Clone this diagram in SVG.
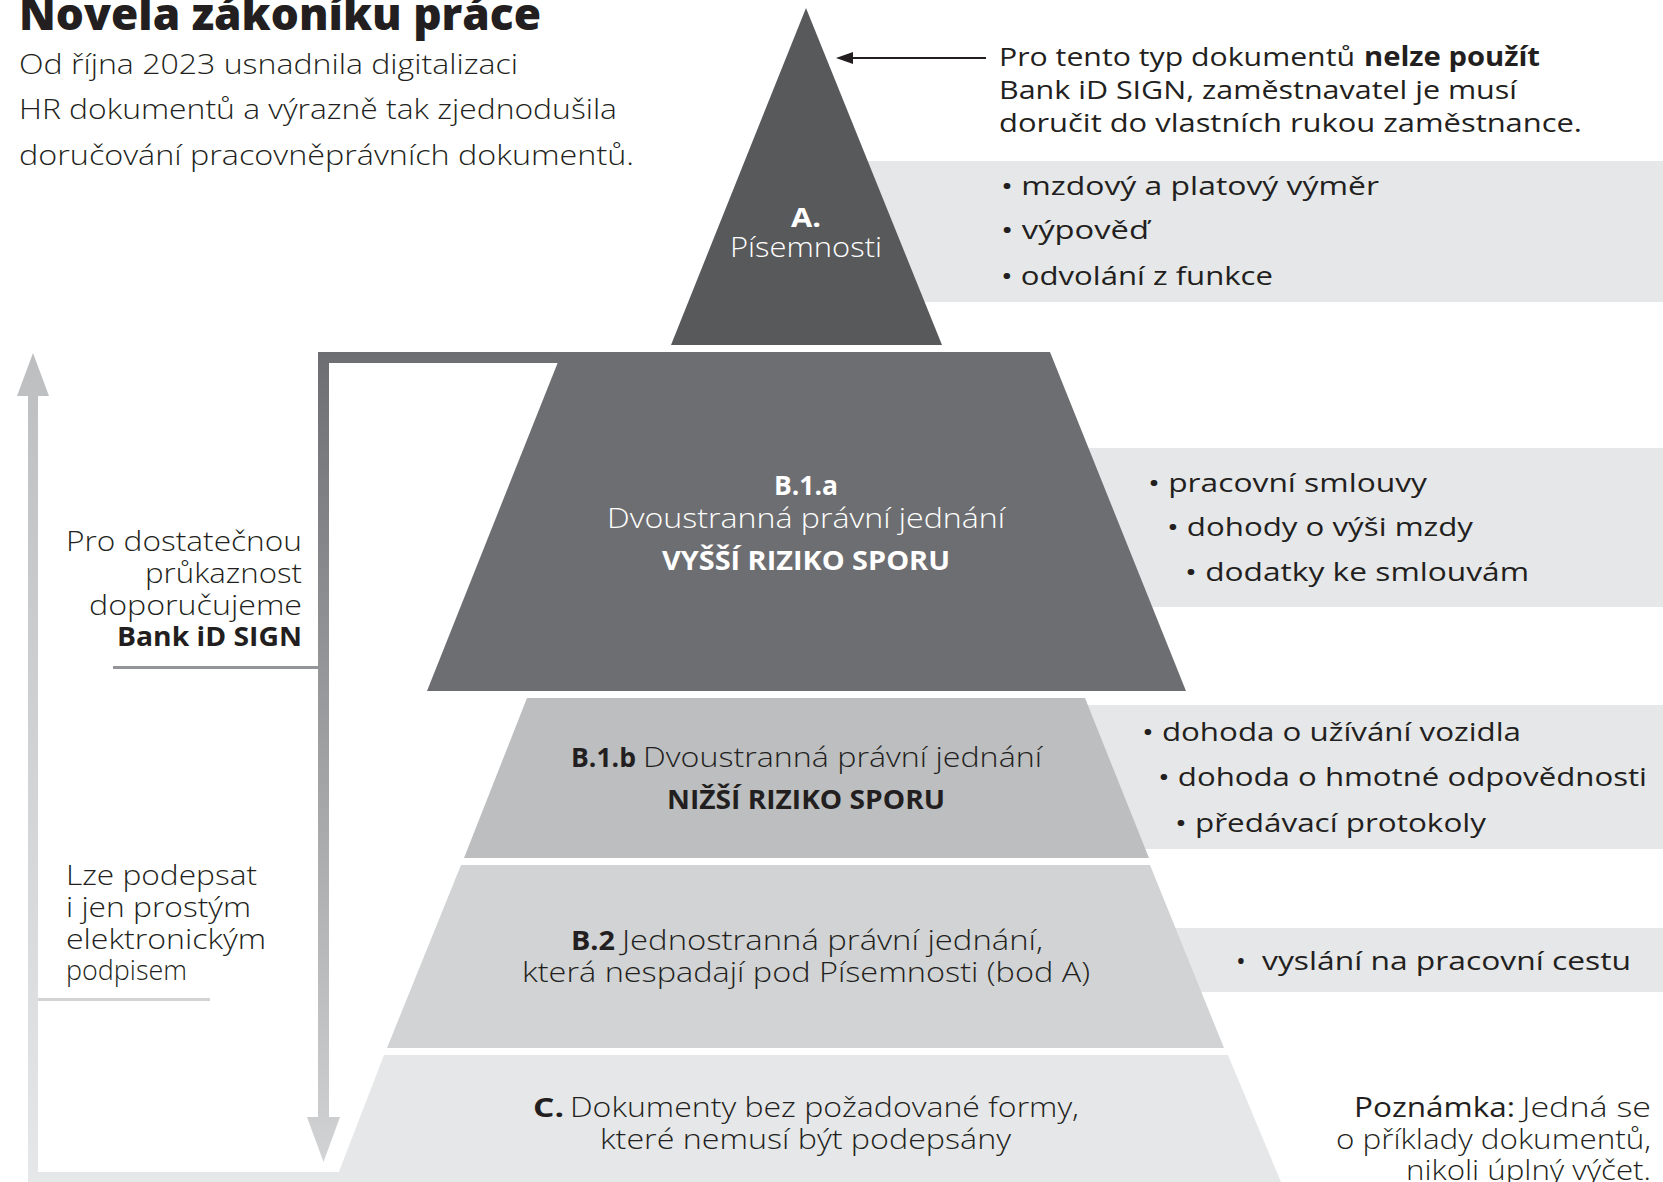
<svg xmlns="http://www.w3.org/2000/svg" width="1663" height="1182" viewBox="0 0 1663 1182">
<defs>
<style>
text{font-family:"Open Sans","Noto Sans",sans-serif;fill:#231f20}
.ti{font-size:45px;font-weight:800}
.sub{font-size:28px;font-weight:300}
.b{font-size:27px;font-weight:300}
.n{font-size:26px;font-weight:400}
.li{font-size:26px;font-weight:500}
.bd{font-weight:700}
.md{font-weight:500}
.w{fill:#ffffff}
.mid{text-anchor:middle}
.end{text-anchor:end}
.panel{fill:#e6e7e8}
</style>
<linearGradient id="gFrame" gradientUnits="userSpaceOnUse" x1="0" y1="352" x2="0" y2="1162">
<stop offset="0" stop-color="#6d6e71"/>
<stop offset="1" stop-color="#d1d3d4"/>
</linearGradient>
<linearGradient id="gLeft" gradientUnits="userSpaceOnUse" x1="0" y1="353" x2="0" y2="1182">
<stop offset="0" stop-color="#bcbec0"/>
<stop offset="1" stop-color="#e6e7e8"/>
</linearGradient>
</defs>
<rect width="1663" height="1182" fill="#ffffff"/>

<g id="connectors">
<path d="M318,352 H568 V363 H329 V1117 H340 L323.5,1162 L307,1117 H318 Z" fill="url(#gFrame)"/>
<path d="M33,353 L49,396 H38 V1172 H345 V1182 H28 V396 H17 Z" fill="url(#gLeft)"/>
<line x1="986" y1="58" x2="852" y2="58" stroke="#231f20" stroke-width="2"/>
<path d="M836,58 L853,52 L853,64 Z" fill="#231f20"/>
</g>

<g id="title">
<text class="ti" x="19" y="30" textLength="522" lengthAdjust="spacingAndGlyphs">Novela zákoníku práce</text>
<text class="sub" x="19" y="74" textLength="499" lengthAdjust="spacingAndGlyphs">Od října 2023 usnadnila digitalizaci</text>
<text class="sub" x="19" y="119" textLength="598" lengthAdjust="spacingAndGlyphs">HR dokumentů a výrazně tak zjednodušila</text>
<text class="sub" x="19" y="165" textLength="615" lengthAdjust="spacingAndGlyphs">doručování pracovněprávních dokumentů.</text>
</g>

<g id="node-A">
<rect class="panel" x="806" y="161" width="857" height="141"/>
<polygon points="806,8 942,345 671,345" fill="#58595b"/>
<text class="b w mid bd" x="806" y="227" textLength="30" lengthAdjust="spacingAndGlyphs">A.</text>
<text class="b w mid" x="806" y="257" textLength="152" lengthAdjust="spacingAndGlyphs">Písemnosti</text>
<text class="li" x="1001" y="195" textLength="378" lengthAdjust="spacingAndGlyphs">• mzdový a platový výměr</text>
<text class="li" x="1001" y="239" textLength="148" lengthAdjust="spacingAndGlyphs">• výpověď</text>
<text class="li" x="1001" y="285" textLength="272" lengthAdjust="spacingAndGlyphs">• odvolání z funkce</text>
</g>

<g id="note-A">
<text class="n" x="999" y="66" textLength="356" lengthAdjust="spacingAndGlyphs">Pro tento typ dokumentů</text>
<text class="n bd" x="1364" y="66" textLength="176" lengthAdjust="spacingAndGlyphs">nelze použít</text>
<text class="n" x="999" y="99" textLength="518" lengthAdjust="spacingAndGlyphs">Bank iD SIGN, zaměstnavatel je musí</text>
<text class="n" x="999" y="132" textLength="583" lengthAdjust="spacingAndGlyphs">doručit do vlastních rukou zaměstnance.</text>
</g>

<g id="node-B1a">
<rect class="panel" x="1050" y="448" width="613" height="159"/>
<polygon points="562,352 1050,352 1186,691 427,691" fill="#6d6e71"/>
<text class="b w mid bd" x="806" y="495" textLength="64" lengthAdjust="spacingAndGlyphs">B.1.a</text>
<text class="b w mid" x="806" y="528" textLength="398" lengthAdjust="spacingAndGlyphs">Dvoustranná právní jednání</text>
<text class="b w mid bd" x="806" y="570" textLength="288" lengthAdjust="spacingAndGlyphs">VYŠŠÍ RIZIKO SPORU</text>
<text class="li" x="1148" y="492" textLength="279" lengthAdjust="spacingAndGlyphs">• pracovní smlouvy</text>
<text class="li" x="1167" y="536" textLength="306" lengthAdjust="spacingAndGlyphs">• dohody o výši mzdy</text>
<text class="li" x="1185" y="581" textLength="344" lengthAdjust="spacingAndGlyphs">• dodatky ke smlouvám</text>
</g>

<g id="node-B1b">
<rect class="panel" x="1085" y="705" width="578" height="144"/>
<polygon points="527,698 1085,698 1149,858 464,858" fill="#bcbec0"/>
<text class="b bd" x="571" y="767" textLength="65" lengthAdjust="spacingAndGlyphs">B.1.b</text>
<text class="b" x="643" y="767" textLength="399" lengthAdjust="spacingAndGlyphs">Dvoustranná právní jednání</text>
<text class="b mid bd" x="806" y="809" textLength="278" lengthAdjust="spacingAndGlyphs">NIŽŠÍ RIZIKO SPORU</text>
<text class="li" x="1142" y="741" textLength="379" lengthAdjust="spacingAndGlyphs">• dohoda o užívání vozidla</text>
<text class="li" x="1158" y="786" textLength="489" lengthAdjust="spacingAndGlyphs">• dohoda o hmotné odpovědnosti</text>
<text class="li" x="1175" y="832" textLength="311" lengthAdjust="spacingAndGlyphs">• předávací protokoly</text>
</g>

<g id="node-B2">
<rect class="panel" x="1150" y="928" width="513" height="64"/>
<polygon points="461,865 1150,865 1224,1048 387,1048" fill="#d1d3d4"/>
<text class="b bd" x="571" y="950" textLength="44" lengthAdjust="spacingAndGlyphs">B.2</text>
<text class="b" x="622" y="950" textLength="421" lengthAdjust="spacingAndGlyphs">Jednostranná právní jednání,</text>
<text class="b" x="522" y="982" textLength="568" lengthAdjust="spacingAndGlyphs">která nespadají pod Písemnosti (bod A)</text>
<text class="li" x="1236" y="970">•</text>
<text class="li" x="1262" y="970" textLength="369" lengthAdjust="spacingAndGlyphs">vyslání na pracovní cestu</text>
</g>

<g id="node-C">
<polygon points="384,1055 1228,1055 1281,1182 335,1182" fill="#e6e7e8"/>
<text class="b bd" x="533" y="1117" textLength="31" lengthAdjust="spacingAndGlyphs">C.</text>
<text class="b" x="570" y="1117" textLength="509" lengthAdjust="spacingAndGlyphs">Dokumenty bez požadované formy,</text>
<text class="b" x="600" y="1149" textLength="411" lengthAdjust="spacingAndGlyphs">které nemusí být podepsány</text>
</g>

<g id="label-bankid">
<text class="b end" x="302" y="551" textLength="236" lengthAdjust="spacingAndGlyphs">Pro dostatečnou</text>
<text class="b end" x="302" y="583" textLength="157" lengthAdjust="spacingAndGlyphs">průkaznost</text>
<text class="b end" x="302" y="615" textLength="213" lengthAdjust="spacingAndGlyphs">doporučujeme</text>
<text class="b end bd" x="302" y="646" textLength="185" lengthAdjust="spacingAndGlyphs">Bank iD SIGN</text>
<rect x="113" y="666" width="207" height="3" fill="#939598"/>
</g>

<g id="label-simple">
<text class="b" x="66" y="885" textLength="191" lengthAdjust="spacingAndGlyphs">Lze podepsat</text>
<text class="b" x="66" y="917" textLength="185" lengthAdjust="spacingAndGlyphs">i jen prostým</text>
<text class="b" x="66" y="949" textLength="200" lengthAdjust="spacingAndGlyphs">elektronickým</text>
<text class="b" x="66" y="980" textLength="121" lengthAdjust="spacingAndGlyphs">podpisem</text>
<rect x="38" y="998" width="172" height="3" fill="#d1d3d4"/>
</g>

<g id="note">
<text class="b md" x="1354" y="1117" textLength="161" lengthAdjust="spacingAndGlyphs">Poznámka:</text>
<text class="b end" x="1651" y="1117" textLength="129" lengthAdjust="spacingAndGlyphs">Jedná se</text>
<text class="b end" x="1651" y="1149" textLength="315" lengthAdjust="spacingAndGlyphs">o příklady dokumentů,</text>
<text class="b end" x="1651" y="1180" textLength="245" lengthAdjust="spacingAndGlyphs">nikoli úplný výčet.</text>
</g>
</svg>
